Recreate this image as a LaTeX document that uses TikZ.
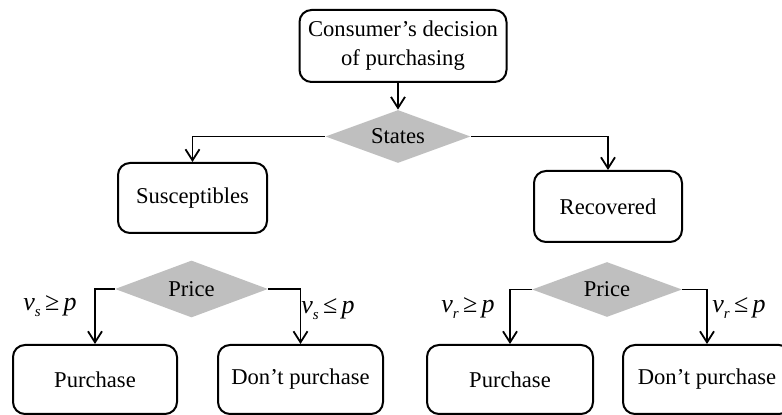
\documentclass[tikz,border=0pt]{standalone}
\usepackage{fontspec}
\setmainfont{Liberation Serif}
\usetikzlibrary{shapes.geometric,arrows.meta}
\tikzset{
  box/.style={draw, rounded corners=6pt, line width=1pt, align=center, inner sep=0pt},
  dia/.style={diamond, fill=gray!50!white, draw=none, inner sep=0pt, aspect=2.7},
  conn/.style={line width=0.9pt, -{Straight Barb[length=5.5pt,width=7pt,line width=0.9pt]}},
  lbl/.style={inner sep=0pt, font=\fontsize{13}{15}\selectfont}
}
\newcommand{\vsub}[2]{\textit{v}\raisebox{-0.5ex}{\fontsize{7.5}{8}\selectfont\textit{#1}}\,#2\,\textit{p}}
\begin{document}
\begin{tikzpicture}[x=0.5pt,y=-0.5pt, font=\fontsize{11.3}{14.5}\selectfont]
\useasboundingbox (0,0) rectangle (782,415);
% top
\node[box, minimum width=103.5pt, minimum height=36pt] (top) at (403,46) {Consumer’s decision\\of purchasing};
\node[dia, minimum width=72.5pt, minimum height=26.5pt] (states) at (398,136.5) {States};
\node[box, minimum width=74.5pt, minimum height=35pt] (sus) at (192.5,198) {Susceptibles};
\node[box, minimum width=74pt, minimum height=35.5pt] (rec) at (608,206.5) {Recovered};
% bottom left
\node[dia, minimum width=76.5pt, minimum height=28.5pt] (pl) at (191.5,289) {Price};
\node[box, minimum width=82pt, minimum height=34.5pt] (bl1) at (95,379.5) {Purchase};
\node[box, minimum width=82.5pt, minimum height=34.5pt] (bl2) at (300.5,379.5) {Don’t purchase};
% bottom right
\node[dia, minimum width=75pt, minimum height=27.5pt] (pr) at (607,289.5) {Price};
\node[box, minimum width=83pt, minimum height=34.5pt] (br1) at (510,379.5) {Purchase};
\node[box, minimum width=84pt, minimum height=34.5pt] (br2) at (707,379.5) {Don’t purchase};
% labels
\node[lbl] (l1) at (50,306) {\vsub{s}{≥}};
\node[lbl] (l2) at (328,309) {\vsub{s}{≤}};
\node[lbl] (l3) at (468,308) {\vsub{r}{≥}};
\node[lbl] (l4) at (739,308) {\vsub{r}{≤}};
% connectors
\draw[conn] (top.south -| states.north) -- (states.north);
\draw[conn] (states.west) -| (sus.north);
\draw[conn] (states.east) -| (rec.north);
\draw[conn] (pl.west) -| (bl1.north);
\draw[conn] (pl.east) -| (bl2.north);
\draw[conn] (pr.west) -| (br1.north);
\draw[conn] (pr.east) -| (br2.north);
\end{tikzpicture}
\end{document}
